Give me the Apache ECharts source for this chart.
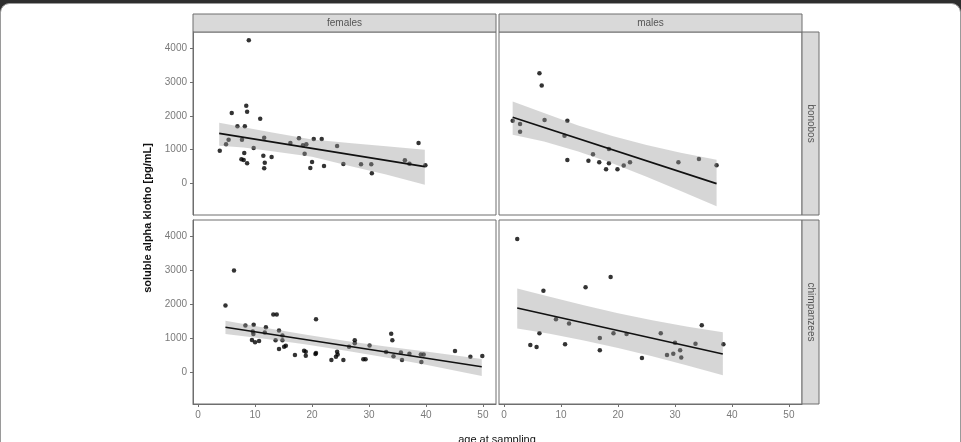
<!DOCTYPE html>
<html>
<head>
<meta charset="utf-8">
<script src="https://cdn.jsdelivr.net/npm/echarts@6/dist/echarts.min.js"></script>
<style>
  html, body { margin: 0; padding: 0; background: #fff; }
  #main { width: 961px; height: 442px; }
</style>
</head>
<body>
<div id="main"></div>
<script>
// age at sampling / klotho values
var femBonobos = [[8.9,4226],[8.45,2294],[8.6,2118],[5.9,2079],[10.9,1912],[6.9,1688],[8.2,1688],[3.8,971],[4.9,1159],[5.35,1294],[7.7,1294],[8.1,903],[7.6,717],[8.0,697],[8.6,600],[9.75,1050],[11.6,1353],[11.45,824],[11.7,618],[11.6,453],[12.9,785],[16.2,1197],[17.7,1335],[18.4,1129],[19.0,1159],[18.7,882],[20.3,1315],[21.7,1315],[20.0,638],[19.7,462],[22.1,520],[24.4,1109],[25.5,579],[28.6,570],[30.4,570],[30.5,305],[36.3,688],[37.1,588],[38.7,1197],[39.9,541]];
var maleBonobos = [[1.5,1853],[2.8,1756],[2.8,1529],[6.2,3256],[6.6,2894],[7.1,1874],[11.1,1853],[10.6,1410],[11.1,697],[14.8,676],[15.6,865],[16.7,629],[17.9,424],[18.4,600],[18.4,1020],[19.9,424],[21.0,535],[22.1,629],[30.6,629],[34.2,726],[37.3,541]];
var femChimps = [[4.8,1966],[6.3,2988],[8.3,1376],[9.75,1395],[9.6,1198],[9.7,1130],[9.45,953],[10.0,885],[10.7,923],[11.9,1327],[11.7,1168],[13.2,1700],[13.8,1700],[14.2,1228],[13.6,943],[14.2,687],[14.8,1080],[14.8,943],[15.1,756],[15.4,785],[17.0,510],[18.6,637],[18.9,608],[18.9,490],[20.7,1563],[20.6,540],[20.7,570],[23.4,363],[24.2,461],[24.4,609],[24.5,530],[25.5,363],[26.5,756],[27.5,945],[27.5,855],[29.0,385],[29.4,390],[30.1,790],[33.0,600],[33.9,1135],[34.1,943],[34.3,475],[35.6,585],[35.8,363],[37.1,545],[39.1,525],[39.6,525],[39.2,304],[45.1,628],[47.8,461],[49.9,481]];
var maleChimps = [[2.3,3912],[18.7,2802],[14.3,2497],[6.9,2398],[9.1,1563],[11.4,1435],[6.2,1150],[4.6,805],[5.7,746],[10.7,825],[16.8,1012],[16.8,648],[19.2,1150],[21.5,1130],[24.2,422],[27.5,1150],[28.6,510],[29.7,549],[30.0,873],[30.9,649],[31.1,442],[33.6,844],[34.7,1386],[38.5,825]];

// fitted lines (end points)
var femBonobosFit = [[3.7,1482],[39.8,500]];
var maleBonobosFit = [[1.5,1960],[37.3,0]];
var femChimpsFit = [[4.8,1327],[49.8,166]];
var maleChimpsFit = [[2.3,1888],[38.4,540]];

// confidence bands: ages, lower, upper
var femBonobosBandAge = [3.7,8,13,20,27,33,39.8];
var femBonobosBandLo = [1118,1065,955,790,503,267,-35];
var femBonobosBandHi = [1794,1665,1505,1300,1193,1103,995];
var maleBonobosBandAge = [1.5,7,13,19,25,31,37.3];
var maleBonobosBandLo = [1440,1240,947,600,204,-221,-670];
var maleBonobosBandHi = [2420,2080,1715,1404,1142,911,705];
var femChimpsBandAge = [4.8,12,19,26,33,40,49.8];
var femChimpsBandLo = [1130,982,819,637,438,225,-105];
var femChimpsBandHi = [1513,1300,1103,923,762,613,392];
var maleChimpsBandAge = [2.3,8,14,20,26,32,38.4];
var maleChimpsBandLo = [1290,1133,935,715,472,209,-80];
var maleChimpsBandHi = [2460,2217,1967,1739,1534,1349,1180];

var xTicks = [0,10,20,30,40,50];
var yTicks = [0,1000,2000,3000,4000];
var colLabels = ['females','males'];
var rowLabels = ['bonobos','chimpanzees'];

var chart = echarts.init(document.getElementById('main'));

var font = 'Liberation Sans, Arial, sans-serif';
var panels = [
    {pts: femBonobos, fit: femBonobosFit, age: femBonobosBandAge, lo: femBonobosBandLo, hi: femBonobosBandHi},
    {pts: maleBonobos, fit: maleBonobosFit, age: maleBonobosBandAge, lo: maleBonobosBandLo, hi: maleBonobosBandHi},
    {pts: femChimps, fit: femChimpsFit, age: femChimpsBandAge, lo: femChimpsBandLo, hi: femChimpsBandHi},
    {pts: maleChimps, fit: maleChimpsFit, age: maleChimpsBandAge, lo: maleChimpsBandLo, hi: maleChimpsBandHi}
];
var boxes = [
    {left: 193, top: 32, width: 303, height: 183},
    {left: 499, top: 32, width: 303, height: 183},
    {left: 193, top: 220, width: 303, height: 184},
    {left: 499, top: 220, width: 303, height: 184}
];

// ribbon: one polygon per panel, upper edge then lower edge back
function bandRenderer(p) {
    return function (params, api) {
        if (params.dataIndex !== 0) return null;
        var up = [], dn = [];
        for (var k = 0; k < p.age.length; k++) {
            up.push(api.coord([p.age[k], p.hi[k]]));
            dn.unshift(api.coord([p.age[k], p.lo[k]]));
        }
        return {
            type: 'polygon',
            shape: {points: up.concat(dn)},
            style: {fill: 'rgba(153,153,153,0.4)'}
        };
    };
}

var grids = [], xAxes = [], yAxes = [], series = [];
boxes.forEach(function (b, i) {
    grids.push({left: b.left, top: b.top, width: b.width, height: b.height,
        show: true, borderColor: '#6e6e6e', borderWidth: 1, backgroundColor: '#fff'});
    var bottom = i >= 2, leftSide = i % 2 === 0;
    xAxes.push({
        type: 'value', gridIndex: i, min: -0.9, max: 52.3,
        splitLine: {show: false},
        axisLine: {show: bottom, onZero: false, lineStyle: {color: '#6e6e6e'}},
        axisTick: {show: bottom, length: 3, customValues: xTicks, lineStyle: {color: '#6e6e6e'}},
        axisLabel: {show: bottom, customValues: xTicks, margin: 6, color: '#7a7a7a', fontSize: 10, fontFamily: font,
            formatter: function (v) { return String(v); }}
    });
    yAxes.push({
        type: 'value', gridIndex: i, min: -925, max: 4470,
        splitLine: {show: false},
        axisLine: {show: leftSide, onZero: false, lineStyle: {color: '#6e6e6e'}},
        axisTick: {show: leftSide, length: 3, customValues: yTicks, lineStyle: {color: '#6e6e6e'}},
        axisLabel: {show: leftSide, customValues: yTicks, margin: 6, color: '#7a7a7a', fontSize: 10, fontFamily: font,
            formatter: function (v) { return String(v); }}
    });
    var p = panels[i];
    series.push({
        type: 'scatter', xAxisIndex: i, yAxisIndex: i, data: p.pts,
        symbolSize: 4.5, itemStyle: {color: '#000'}, z: 2, silent: true
    });
    series.push({
        type: 'custom', xAxisIndex: i, yAxisIndex: i,
        data: p.age.map(function (a, k) { return [a, p.lo[k], p.hi[k]]; }),
        encode: {x: 0, y: [1, 2]},
        renderItem: bandRenderer(p), z: 3, silent: true
    });
    series.push({
        type: 'line', xAxisIndex: i, yAxisIndex: i, data: p.fit,
        symbol: 'none', lineStyle: {color: '#111', width: 1.6}, z: 4, silent: true
    });
});

var graphics = [
    {type: 'rect', shape: {x: 0, y: 0, width: 961, height: 14}, style: {fill: '#2e2e2e'}, z: -10},
    {type: 'rect', shape: {x: 0.5, y: 3.5, width: 960, height: 460, r: 9}, style: {fill: '#fff', stroke: '#9a9a9a', lineWidth: 1}, z: -9}
];
// column strips
colLabels.forEach(function (t, k) {
    var b = boxes[k];
    graphics.push({type: 'rect', shape: {x: b.left, y: 14, width: b.width, height: 18},
        style: {fill: '#d9d9d9', stroke: '#6e6e6e', lineWidth: 1}});
    graphics.push({type: 'text', x: b.left + b.width / 2, y: 23,
        style: {text: t, align: 'center', verticalAlign: 'middle', fill: '#555', font: '10px ' + font}});
});
// row strips
rowLabels.forEach(function (t, k) {
    var b = boxes[k * 2 + 1];
    graphics.push({type: 'rect', shape: {x: 802, y: b.top, width: 17, height: b.height},
        style: {fill: '#d9d9d9', stroke: '#6e6e6e', lineWidth: 1}});
    graphics.push({type: 'text', x: 810.5, y: b.top + b.height / 2, rotation: -Math.PI / 2,
        style: {text: t, align: 'center', verticalAlign: 'middle', fill: '#555', font: '10px ' + font}});
});
// axis titles
graphics.push({type: 'text', x: 148, y: 218, rotation: Math.PI / 2,
    style: {text: 'soluble alpha klotho [pg/mL]', align: 'center', verticalAlign: 'middle', fill: '#111', font: 'bold 11px ' + font}});
graphics.push({type: 'text', x: 497, y: 440,
    style: {text: 'age at sampling', align: 'center', verticalAlign: 'middle', fill: '#111', font: '11px ' + font}});

var option = {
    animation: false,
    backgroundColor: '#fff',
    grid: grids,
    xAxis: xAxes,
    yAxis: yAxes,
    series: series,
    graphic: graphics
};
chart.setOption(option);
</script>
</body>
</html>
